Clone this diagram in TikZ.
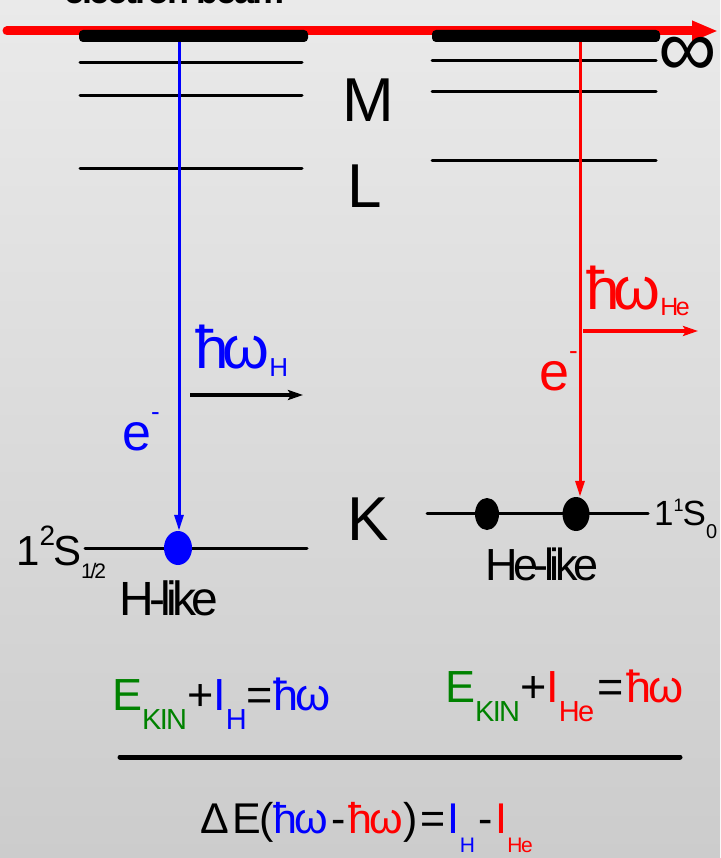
\documentclass[tikz,border=0pt]{standalone}
\usepackage{fontspec}
\setmainfont{Liberation Sans}[LetterSpace=-6]
\newfontfamily\tightf{Liberation Sans}[LetterSpace=-10]
\usepackage{xcolor}
\usetikzlibrary{arrows.meta,shapes.geometric}
\definecolor{hblue}{RGB}{0,0,255}
\definecolor{hered}{RGB}{255,0,0}
\definecolor{kingreen}{RGB}{0,130,0}
\definecolor{bgtop}{RGB}{234,234,234}
\definecolor{bgbot}{RGB}{204,204,204}
\newcommand{\fs}[1]{\fontsize{#1}{#1}\selectfont}
\newcommand{\lowtxt}[3]{\raisebox{-#1pt}{\fs{#2}#3}}
\newcommand{\hitxt}[3]{\raisebox{#1pt}{\fs{#2}#3}}

\begin{document}
\begin{tikzpicture}[x=1pt,y=-1pt,
  lbl/.style={inner sep=0pt,anchor=base west},
  level/.style={line width=3pt,line cap=round},
  bar/.style={rounded corners=4pt},
  dot/.style={ellipse,inner sep=0pt,minimum width=#1},
  trans/.style={-{Triangle[length=16pt,width=9pt]},line width=3pt},
  photon/.style={-{Stealth[length=15pt,width=10pt,inset=3pt]},line width=4pt}]
  \useasboundingbox (0,0) rectangle (720,858);
  \fill[top color=bgtop,bottom color=bgbot] (0,0) rectangle (720,858);
  \node[lbl,font=\bfseries\fs{36}] (beamtxt) at (64,4) {electron beam};
  \coordinate (beamL) at (7,31); \coordinate (beamR) at (718,31);
  \draw[hered,line width=9pt,line cap=round,-{Triangle[length=26pt,width=19pt]}] (beamL) -- (beamR);
  \fill[bar] (79,30) rectangle (308,42); \fill[bar] (432,30) rectangle (660,42);
  \draw[level] (80,63) -- (302,63); \draw[level] (80,96) -- (302,96); \draw[level] (80,169) -- (302,169);
  \draw[level] (432,61) -- (656,61); \draw[level] (432,92) -- (656,92); \draw[level] (432,161) -- (656,161);
  \draw[level] (85,548) -- (307,548); \draw[level] (427,513) -- (648,513);
  \node[font=\fs{82}] (inf) at (688,57) {∞};
  \node[lbl,font=\fs{62}] (M) at (342,122) {M};
  \node[lbl,font=\fs{62}] (L) at (347,208) {L};
  \node[lbl,font=\fs{62}] (K) at (347,540) {K};
  \node[dot=28pt,minimum height=34pt,fill=hblue] (hdot) at (178,548) {};
  \node[dot=24pt,minimum height=32pt,fill=black] (hedotA) at (487,514) {};
  \node[dot=27pt,minimum height=34pt,fill=black] (hedotB) at (576,514) {};
  \coordinate (htop) at (179,42); \coordinate (hetop) at (580,42);
  \draw[trans,hblue] (htop) -- (htop |- hdot.north);
  \draw[trans,hered] (hetop) -- (hetop |- hedotB.north);
  \coordinate (hphA) at (190,395); \coordinate (hphB) at (303,395);
  \coordinate (hephA) at (583,331); \coordinate (hephB) at (698,331);
  \draw[photon] (hphA) -- (hphB); \draw[photon,hered] (hephA) -- (hephB);
  \node[lbl,hblue,font=\tightf\fs{60}] (hwH) at (195,368) {ħω\lowtxt{8}{26}{H}};
  \node[lbl,hered,font=\tightf\fs{60}] (hwHe) at (586,309) {ħω\lowtxt{6}{25}{He}};
  \node[lbl,hblue,font=\fs{52}] (eH) at (122,450) {e\hitxt{30}{26}{-}};
  \node[lbl,hered,font=\fs{54}] (eHe) at (539,390) {e\hitxt{31}{26}{-}};
  \node[lbl,font=\tightf\fs{42}] (termH) at (16,565) {1\hitxt{20}{28}{2}\hspace{-2pt}S\lowtxt{13}{21}{1/2}};
  \node[lbl,font=\tightf\fs{35}] (termHe) at (654,525) {1\hitxt{14}{18}{1}\hspace{-1pt}S\lowtxt{13}{20}{0}};
  \node[lbl,font=\tightf\fs{48}] (hlike) at (119,615) {H-like};
  \node[lbl,font=\tightf\fs{45}] (helike) at (485,580) {He-like};
  \node[lbl,font=\fs{45}] (eqH) at (112,710) {{\color{kingreen}E\lowtxt{19}{29}{KIN}}+{\color{hblue}I\lowtxt{19}{29}{H}}={\color{hblue}ħω}};
  \node[lbl,font=\fs{45}] (eqHe) at (445,702) {{\color{kingreen}E\lowtxt{19}{29}{KIN}}+{\color{hered}I\lowtxt{19}{29}{He}}\hspace{3pt}=\hspace{3pt}{\color{hered}ħω}};
  \draw[line width=5pt,line cap=round] (120,757) -- (680,757);
  \node[lbl,font=\fs{43}] (eqDiff) at (200,833) {Δ\hspace{4pt}E({\color{hblue}ħω}\hspace{3pt}-\hspace{3pt}{\color{hered}ħω})\hspace{3pt}=\hspace{2pt}{\color{hblue}I\lowtxt{19}{21}{H}}\hspace{3pt}-\hspace{3pt}{\color{hered}I\lowtxt{19}{21}{He}}};
\end{tikzpicture}
\end{document}
